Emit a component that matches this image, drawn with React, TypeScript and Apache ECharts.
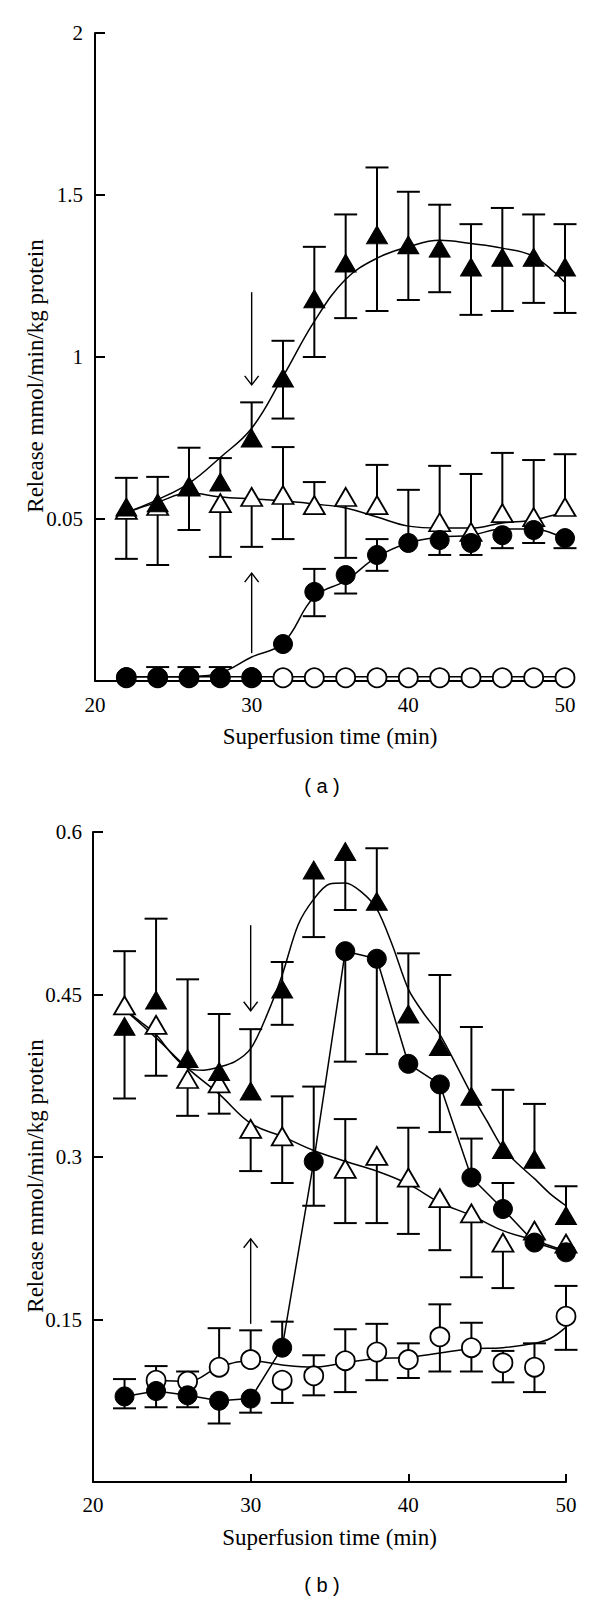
import React, { useEffect, useRef } from "react";
import * as echarts from "echarts";

// ---------- shared ----------
const times = [22, 24, 26, 28, 30, 32, 34, 36, 38, 40, 42, 44, 46, 48, 50];
const xTickLabels = [20, 30, 40, 50];
const yTickLabelsA = ["", "0.05", "1", "1.5", "2"];
const yTickLabelsB = ["", "0.15", "0.3", "0.45", "0.6"];
const xTitle = "Superfusion time (min)";
const yTitle = "Release mmol/min/kg protein";

// ---------- panel (a) ----------
const filledTriA = [0.537, 0.55, 0.6, 0.614, 0.75, 0.935, 1.18, 1.29, 1.377, 1.346, 1.336, 1.278, 1.308, 1.308, 1.278];
const filledTriAHi = [0.627, 0.63, 0.72, 0.688, 0.86, 1.05, 1.34, 1.44, 1.585, 1.51, 1.47, 1.41, 1.46, 1.44, 1.41];
const filledTriALo = [null, null, null, null, null, 0.81, 1.0, 1.12, 1.142, 1.176, 1.2, 1.13, 1.142, 1.167, 1.136];
const filledTriACurve = [0.52, 0.56, 0.61, 0.69, 0.78, 0.94, 1.11, 1.24, 1.305, 1.34, 1.36, 1.35, 1.336, 1.31, 1.23];

const openTriA = [0.528, 0.54, 0.6, 0.549, 0.568, 0.574, 0.543, 0.568, 0.543, null, 0.49, 0.46, 0.518, 0.506, 0.537];
const openTriAHi = [null, null, null, null, null, 0.722, 0.614, null, 0.667, null, 0.664, 0.639, 0.704, 0.682, 0.7];
const openTriALo = [0.377, 0.358, 0.466, 0.383, 0.414, 0.438, null, 0.38, null, null, null, null, null, null, null];
const openTriACurve = [0.52, 0.552, 0.58, 0.568, 0.562, 0.556, 0.546, 0.534, 0.506, 0.478, 0.472, 0.472, 0.488, 0.497, 0.522];

const filledCircA = [0.012, 0.012, 0.012, 0.012, 0.012, 0.114, 0.275, 0.327, 0.389, 0.426, 0.435, 0.426, 0.45, 0.466, 0.441];
const filledCircAHi = [null, 0.043, 0.043, 0.043, null, null, 0.346, null, 0.438, 0.59, null, null, null, null, null];
const filledCircALo = [null, null, null, null, null, null, 0.2, 0.27, 0.34, null, 0.389, 0.389, 0.41, 0.426, 0.41];
const filledCircACurve = [0.013, 0.013, 0.014, 0.025, 0.074, 0.117, 0.26, 0.31, 0.383, 0.426, 0.444, 0.45, 0.469, 0.469, 0.438];

const openCircA = [0.01, 0.01, 0.01, 0.01, 0.01, 0.01, 0.01, 0.01, 0.01, 0.01, 0.01, 0.01, 0.01, 0.01, 0.01];
const openCircACurve = [0.013, 0.013, 0.013, 0.013, 0.013, 0.013, 0.013, 0.013, 0.013, 0.013, 0.013, 0.013, 0.013, 0.013, 0.013];

const arrowsA = [
  [30, 1.2, 0.914],
  [30, 0.086, 0.333],
];

// ---------- panel (b) ----------
const filledTriB = [0.4206, 0.445, 0.391, 0.379, 0.361, 0.455, 0.565, 0.582, 0.536, 0.432, 0.402, 0.356, 0.307, 0.298, 0.246];
const filledTriBHi = [null, 0.52, 0.464, 0.432, 0.418, 0.48, null, null, 0.585, 0.488, 0.468, 0.42, 0.362, 0.349, 0.273];
const filledTriBLo = [0.354, null, null, null, null, 0.422, 0.503, 0.528, null, null, null, null, null, null, null];
const filledTriBCurveTimes = [22, 23, 24, 25, 26, 27, 28, 29, 30, 31, 32, 33, 34, 35, 36, 37, 38, 39, 40, 41, 42, 43, 44, 45, 46, 47, 48, 49, 50];
const filledTriBCurve = [0.436, 0.425, 0.413, 0.395, 0.382, 0.38, 0.383, 0.388, 0.4, 0.43, 0.468, 0.514, 0.538, 0.552, 0.553, 0.545, 0.529, 0.495, 0.455, 0.432, 0.413, 0.386, 0.358, 0.333, 0.308, 0.293, 0.28, 0.266, 0.255];

const openTriB = [0.44, 0.422, 0.372, 0.368, 0.326, 0.319, null, 0.289, 0.301, 0.281, 0.262, 0.248, 0.221, 0.232, 0.22];
const openTriBHi = [0.49, null, null, null, null, 0.356, null, 0.335, null, 0.327, null, null, null, null, null];
const openTriBLo = [null, 0.375, 0.338, 0.34, 0.287, 0.276, null, 0.239, 0.239, 0.229, 0.214, 0.189, 0.179, null, null];
const openTriBCurve = [0.436, 0.41, 0.382, 0.358, 0.331, 0.319, 0.306, 0.296, 0.287, 0.275, 0.258, 0.246, 0.232, 0.223, 0.213];

const filledCircB = [0.079, 0.084, 0.08, 0.075, 0.077, 0.124, 0.296, 0.49, 0.483, 0.386, 0.367, 0.281, 0.252, 0.221, 0.212];
const filledCircBHi = [0.095, null, null, null, null, 0.148, 0.365, null, null, null, null, 0.317, 0.276, null, null];
const filledCircBLo = [0.068, 0.069, 0.069, 0.054, 0.064, null, 0.255, 0.388, 0.395, null, 0.323, null, null, null, null];

const openCircB = [null, 0.094, 0.093, 0.106, 0.113, 0.094, 0.098, 0.112, 0.12, 0.113, 0.134, 0.124, 0.11, 0.106, 0.153];
const openCircBHi = [null, 0.107, 0.102, 0.142, 0.14, null, 0.117, 0.141, 0.146, 0.128, 0.164, 0.147, 0.121, 0.128, 0.181];
const openCircBLo = [null, null, null, null, null, 0.073, 0.08, 0.083, 0.094, 0.096, 0.102, 0.102, 0.092, 0.083, 0.122];
const openCircBCurveTimes = [24, 26, 28, 30, 32, 34, 36, 38, 40, 42, 44, 46, 48, 49, 50];
const openCircBCurve = [0.094, 0.093, 0.106, 0.112, 0.108, 0.106, 0.11, 0.114, 0.115, 0.119, 0.123, 0.124, 0.128, 0.1325, 0.143];

const arrowsB = [
  [30, 0.514, 0.435],
  [30, 0.146, 0.2245],
];

// ---------- helpers ----------
type N = number | null;
const SERIF = "'Liberation Serif', 'Times New Roman', Times, serif";

function pairs(xs: number[], ys: N[]) {
  const out: number[][] = [];
  xs.forEach((x, i) => {
    const v = ys[i];
    if (v != null) out.push([x, v]);
  });
  return out;
}

function errs(xs: number[], ys: N[], hi: N[], lo: N[]) {
  const out: number[][] = [];
  xs.forEach((x, i) => {
    const v = ys[i];
    if (v == null) return;
    if (hi[i] != null) out.push([x, v, hi[i] as number]);
    if (lo[i] != null) out.push([x, v, lo[i] as number]);
  });
  return out;
}

function curveSeries(idx: number, xs: number[], ys: N[], smooth: number | boolean) {
  return {
    type: "line",
    xAxisIndex: idx,
    yAxisIndex: idx,
    data: pairs(xs, ys),
    smooth,
    symbol: "none",
    showSymbol: false,
    clip: false,
    silent: true,
    lineStyle: { color: "#000", width: 1.5, opacity: 1 },
    z: 1,
  };
}

function errorSeries(idx: number, data: number[][]) {
  return {
    type: "custom",
    xAxisIndex: idx,
    yAxisIndex: idx,
    data,
    clip: false,
    silent: true,
    encode: { x: 0, y: [1, 2] },
    z: 2,
    renderItem: (_params: any, api: any) => {
      const x = api.value(0);
      const p0 = api.coord([x, api.value(1)]);
      const p1 = api.coord([x, api.value(2)]);
      const hw = 11.5;
      return {
        type: "group",
        children: [
          {
            type: "line",
            shape: { x1: p0[0], y1: p0[1], x2: p1[0], y2: p1[1] },
            style: { stroke: "#000", lineWidth: 2 },
          },
          {
            type: "line",
            shape: { x1: p1[0] - hw, y1: p1[1], x2: p1[0] + hw, y2: p1[1] },
            style: { stroke: "#000", lineWidth: 2 },
          },
        ],
      };
    },
  };
}

function markerSeries(idx: number, xs: number[], ys: N[], shape: string, filled: boolean, z: number) {
  const isTri = shape === "triangle";
  return {
    type: "scatter",
    xAxisIndex: idx,
    yAxisIndex: idx,
    data: pairs(xs, ys),
    symbol: shape,
    symbolSize: isTri ? [21, 18] : 19,
    clip: false,
    silent: true,
    itemStyle: filled
      ? { color: "#000", borderColor: "#000", borderWidth: 1, opacity: 1 }
      : { color: "#fff", borderColor: "#000", borderWidth: 1.8, opacity: 1 },
    z,
  };
}

function arrowSeries(idx: number, data: number[][]) {
  return {
    type: "custom",
    xAxisIndex: idx,
    yAxisIndex: idx,
    data,
    clip: false,
    silent: true,
    encode: { x: 0, y: [1, 2] },
    z: 6,
    renderItem: (_params: any, api: any) => {
      const x = api.value(0);
      const s = api.coord([x, api.value(1)]);
      const e = api.coord([x, api.value(2)]);
      const dir = e[1] > s[1] ? 1 : -1;
      return {
        type: "group",
        children: [
          {
            type: "line",
            shape: { x1: s[0], y1: s[1], x2: e[0], y2: e[1] },
            style: { stroke: "#000", lineWidth: 1.4 },
          },
          {
            type: "polyline",
            shape: {
              points: [
                [e[0] - 7, e[1] - dir * 9],
                [e[0], e[1]],
                [e[0] + 7, e[1] - dir * 9],
              ],
            },
            style: { stroke: "#000", lineWidth: 1.4, fill: "none" },
          },
        ],
      };
    },
  };
}

function xAxis(idx: number, margin: number) {
  return {
    type: "value",
    gridIndex: idx,
    min: 20,
    max: 50,
    interval: 10,
    axisLine: { show: true, onZero: false, lineStyle: { color: "#000", width: 2 } },
    axisTick: { show: true, inside: true, length: 8, lineStyle: { color: "#000", width: 2 } },
    axisLabel: {
      color: "#000",
      fontFamily: SERIF,
      fontSize: 21,
      margin,
      formatter: (v: number) => (xTickLabels.indexOf(v) >= 0 ? String(v) : ""),
    },
    splitLine: { show: false },
    name: xTitle,
    nameLocation: "middle",
    nameGap: 44,
    nameTextStyle: { color: "#000", fontFamily: SERIF, fontSize: 23 },
  };
}

function yAxis(idx: number, max: number, interval: number, labels: string[], margin: number) {
  return {
    type: "value",
    gridIndex: idx,
    min: 0,
    max,
    interval,
    axisLine: { show: true, onZero: false, lineStyle: { color: "#000", width: 2 } },
    axisTick: { show: true, inside: true, length: 10, lineStyle: { color: "#000", width: 2 } },
    axisLabel: {
      color: "#000",
      fontFamily: SERIF,
      fontSize: 21,
      margin,
      formatter: (v: number) => labels[Math.round(v / interval)] ?? "",
    },
    splitLine: { show: false },
  };
}

function textEl(text: string, x: number, y: number, fontFamily: string, fontSize: number, rotation = 0) {
  return {
    type: "text",
    x,
    y,
    rotation,
    silent: true,
    style: {
      text,
      fontFamily,
      fontSize,
      fill: "#000",
      textAlign: "center",
      textVerticalAlign: "middle",
      align: "center",
      verticalAlign: "middle",
    },
  };
}

export default function App() {
  const ref = useRef<HTMLDivElement>(null);

  useEffect(() => {
    document.body.style.margin = "0";
    if (!ref.current) return;
    const chart = echarts.init(ref.current, undefined, { renderer: "svg" });

    const option: any = {
      animation: false,
      backgroundColor: "#fff",
      textStyle: { fontFamily: SERIF },
      grid: [
        { left: 95, top: 33, width: 470, height: 648 },
        { left: 93, top: 832, width: 473, height: 650 },
      ],
      xAxis: [xAxis(0, 13), xAxis(1, 12)],
      yAxis: [
        yAxis(0, 2, 0.5, yTickLabelsA, 12),
        yAxis(1, 0.6, 0.15, yTickLabelsB, 11),
      ],
      graphic: [
        textEl(yTitle, 35, 376, SERIF, 23, Math.PI / 2),
        textEl(yTitle, 35, 1176, SERIF, 23, Math.PI / 2),
        textEl("( a )", 322, 786, "'Liberation Sans', Arial, sans-serif", 20),
        textEl("( b )", 322, 1585, "'Liberation Sans', Arial, sans-serif", 20),
      ],
      series: [
        // panel (a)
        curveSeries(0, times, openCircACurve, 0.4),
        curveSeries(0, times, filledCircACurve, 0.4),
        curveSeries(0, times, openTriACurve, 0.4),
        curveSeries(0, times, filledTriACurve, 0.4),
        errorSeries(0, errs(times, openTriA, openTriAHi, openTriALo)),
        errorSeries(0, errs(times, filledTriA, filledTriAHi, filledTriALo)),
        errorSeries(0, errs(times, filledCircA, filledCircAHi, filledCircALo)),
        markerSeries(0, times, openCircA, "circle", false, 3),
        markerSeries(0, times, filledCircA, "circle", true, 4),
        markerSeries(0, times, openTriA, "triangle", false, 3),
        markerSeries(0, times, filledTriA, "triangle", true, 4),
        arrowSeries(0, arrowsA),
        // panel (b)
        curveSeries(1, openCircBCurveTimes, openCircBCurve, 0.4),
        curveSeries(1, times, filledCircB, false),
        curveSeries(1, times, openTriBCurve, 0.4),
        curveSeries(1, filledTriBCurveTimes, filledTriBCurve, 0.3),
        errorSeries(1, errs(times, openTriB, openTriBHi, openTriBLo)),
        errorSeries(1, errs(times, filledTriB, filledTriBHi, filledTriBLo)),
        errorSeries(1, errs(times, filledCircB, filledCircBHi, filledCircBLo)),
        errorSeries(1, errs(times, openCircB, openCircBHi, openCircBLo)),
        markerSeries(1, times, openCircB, "circle", false, 3),
        markerSeries(1, times, openTriB, "triangle", false, 3),
        markerSeries(1, times, filledTriB, "triangle", true, 4),
        markerSeries(1, times, filledCircB, "circle", true, 4),
        arrowSeries(1, arrowsB),
      ],
    };

    chart.setOption(option);
    return () => {
      chart.dispose();
    };
  }, []);

  return <div ref={ref} style={{ width: 600, height: 1601 }} />;
}
